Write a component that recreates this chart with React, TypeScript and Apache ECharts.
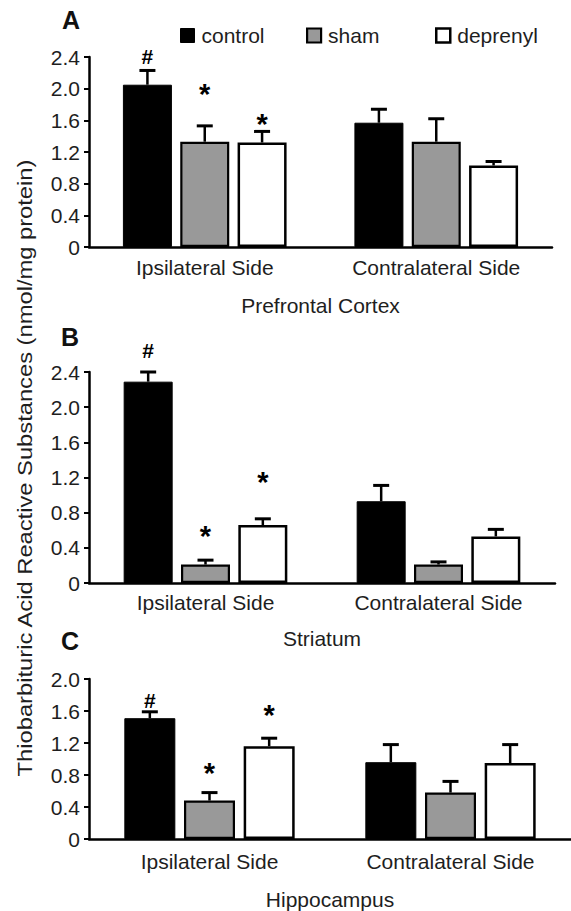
import React, { useEffect, useRef } from 'react';
import * as echarts from 'echarts';

// ---- data ----
const sides = ['Ipsilateral Side', 'Contralateral Side'];
const groupNames = ['control', 'sham', 'deprenyl'];
const regionNames = ['Prefrontal Cortex', 'Striatum', 'Hippocampus'];
const panelLetters = ['A', 'B', 'C'];
const yAxisTitle = 'Thiobarbituric Acid Reactive Substances (nmol/mg protein)';

// means per panel: [control, sham, deprenyl] x [ipsi, contra]
const pfcMeans = [[2.05, 1.57], [1.33, 1.33], [1.32, 1.03]];
const pfcSem = [[0.18, 0.17], [0.2, 0.29], [0.14, 0.05]];
const striatumMeans = [[2.29, 0.93], [0.21, 0.21], [0.66, 0.53]];
const striatumSem = [[0.11, 0.18], [0.05, 0.03], [0.07, 0.08]];
const hippoMeans = [[1.51, 0.96], [0.48, 0.58], [1.16, 0.95]];
const hippoSem = [[0.08, 0.22], [0.1, 0.14], [0.1, 0.23]];

// significance marks (text, height in data units) per group, ipsilateral side
const pfcMarks = ['#', '*', '*'];
const pfcMarkAt = [2.41, 2.01, 1.63];
const striatumMarks = ['#', '*', '*'];
const striatumMarkAt = [2.64, 0.6, 1.22];
const hippoMarks = ['#', '*', '*'];
const hippoMarkAt = [1.73, 0.9, 1.63];

const yMaxes = [2.4, 2.4, 2.0];
const yStep = 0.4;

const panelMeans = [pfcMeans, striatumMeans, hippoMeans];
const panelSem = [pfcSem, striatumSem, hippoSem];
const panelMarks = [pfcMarks, striatumMarks, hippoMarks];
const panelMarkAt = [pfcMarkAt, striatumMarkAt, hippoMarkAt];

// ---- layout / style ----
const FONT = '"Liberation Sans", Arial, Helvetica, sans-serif';
const TEXT = '#1e1e1e';
const FS = 21;
const grids = [
  { left: 89, top: 57, width: 463, height: 190 },
  { left: 89, top: 372, width: 466, height: 211 },
  { left: 89, top: 679, width: 482, height: 161 },
];
const barWidths = [49, 49, 51];
const gapRatio = 0.17;
const nameGaps = [48, 45, 50];
const labelMargins = [10, 9, 12];
const barStyles = [
  { color: '#000000', borderColor: '#000', borderWidth: 1 },
  { color: '#999999', borderColor: '#000', borderWidth: 2.2 },
  { color: '#ffffff', borderColor: '#000', borderWidth: 2.5 },
];
const legendLefts = [180, 306, 435];
const letterPos = [
  [71, 20],
  [70, 337],
  [70, 641],
];

export default function App() {
  const ref = useRef<HTMLDivElement>(null);
  useEffect(() => {
    if (!ref.current) return;
    const chart = echarts.init(ref.current, null, { renderer: 'svg' });

    const xAxes: any[] = [];
    const yAxes: any[] = [];
    const series: any[] = [];

    grids.forEach((g, p) => {
      xAxes.push({
        type: 'category',
        gridIndex: p,
        data: sides,
        axisLine: { lineStyle: { color: '#000', width: 2.5 } },
        axisTick: { show: false },
        axisLabel: { fontSize: FS, color: TEXT, fontFamily: FONT, margin: labelMargins[p] },
        name: regionNames[p],
        nameLocation: 'middle',
        nameGap: nameGaps[p],
        nameTextStyle: { fontSize: FS, color: TEXT, fontFamily: FONT },
      });
      yAxes.push({
        type: 'value',
        gridIndex: p,
        min: 0,
        max: yMaxes[p],
        interval: yStep,
        splitLine: { show: false },
        axisLine: { show: true, lineStyle: { color: '#000', width: 2.5 } },
        axisTick: { show: true, length: 5, lineStyle: { color: '#000', width: 2 } },
        axisLabel: {
          fontSize: FS,
          color: TEXT,
          fontFamily: FONT,
          margin: 9,
          formatter: (v: number) => (v === 0 ? '0' : v.toFixed(1)),
        },
      });

      groupNames.forEach((name, gi) => {
        series.push({
          type: 'bar',
          name,
          xAxisIndex: p,
          yAxisIndex: p,
          data: panelMeans[p][gi],
          barWidth: barWidths[p],
          barGap: gapRatio * 100 + '%',
          itemStyle: barStyles[gi],
          z: 2,
        });
      });

      const rows: any[] = [];
      groupNames.forEach((_, gi) => {
        sides.forEach((__, c) => {
          rows.push({
            c,
            g: gi,
            mean: panelMeans[p][gi][c],
            sem: panelSem[p][gi][c],
            mark: c === 0 ? panelMarks[p][gi] : '',
            markAt: panelMarkAt[p][gi],
          });
        });
      });
      const bw = barWidths[p];
      series.push({
        type: 'custom',
        name: 'err' + p,
        xAxisIndex: p,
        yAxisIndex: p,
        z: 5,
        clip: false,
        encode: { x: 0, y: 1 },
        data: rows.map((r) => [r.c, r.mean + r.sem]),
        renderItem: (params: any, api: any) => {
          const r = rows[params.dataIndex];
          const base = api.coord([r.c, r.mean]);
          const top = api.coord([r.c, r.mean + r.sem]);
          const x = base[0] + (r.g - 1) * bw * (1 + gapRatio);
          const children: any[] = [
            {
              type: 'line',
              shape: { x1: x, y1: base[1], x2: x, y2: top[1] },
              style: { stroke: '#000', lineWidth: 2.5 },
            },
            {
              type: 'line',
              shape: { x1: x - 8, y1: top[1], x2: x + 8, y2: top[1] },
              style: { stroke: '#000', lineWidth: 3 },
            },
          ];
          if (r.mark) {
            const my = api.coord([r.c, r.markAt])[1];
            const star = r.mark === '*';
            children.push({
              type: 'text',
              x,
              y: my + (star ? 6 : 0),
              style: {
                text: r.mark,
                fontSize: star ? 29 : 21,
                fontWeight: 'bold',
                fontFamily: FONT,
                fill: '#000',
                align: 'center',
                verticalAlign: 'middle',
              },
            });
          }
          return { type: 'group', children };
        },
      });
    });

    const legends = groupNames.map((n, i) => ({
      data: [{ name: n, itemStyle: barStyles[i], icon: 'rect' }],
      left: legendLefts[i],
      top: 25,
      padding: 0,
      itemWidth: 14,
      itemHeight: 14,
      selectedMode: false,
      textStyle: { fontSize: FS, color: TEXT, fontFamily: FONT, padding: [0, 0, 0, 2] },
    }));

    const graphics: any[] = panelLetters.map((l, i) => ({
      type: 'text',
      x: letterPos[i][0],
      y: letterPos[i][1],
      style: {
        text: l,
        fontSize: 25,
        fontWeight: 'bold',
        fontFamily: FONT,
        fill: '#111',
        align: 'center',
        verticalAlign: 'middle',
      },
    }));
    graphics.push({
      type: 'text',
      x: 25,
      y: 468,
      rotation: Math.PI / 2,
      scaleX: 1.13,
      style: {
        text: yAxisTitle,
        fontSize: 21,
        fontFamily: FONT,
        fill: TEXT,
        align: 'center',
        verticalAlign: 'middle',
      },
    });

    chart.setOption({
      animation: false,
      backgroundColor: '#fff',
      grid: grids,
      xAxis: xAxes,
      yAxis: yAxes,
      legend: legends,
      series,
      graphic: graphics,
    });
    return () => chart.dispose();
  }, []);
  return <div ref={ref} style={{ width: 571, height: 911, position: 'absolute', left: 0, top: 0 }} />;
}
